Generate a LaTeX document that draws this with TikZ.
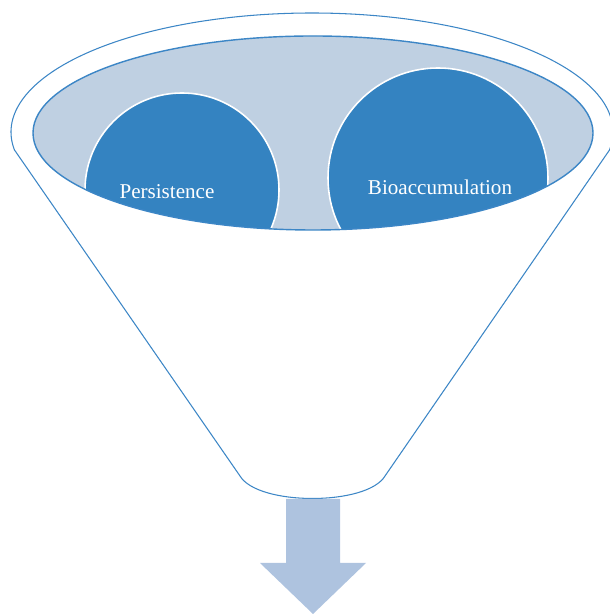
\documentclass[tikz,border=0pt]{standalone}
\usepackage{fontspec}
\setmainfont{Liberation Serif}
\definecolor{rimblue}{HTML}{3C86C6}
\definecolor{bowlfill}{HTML}{BFD0E2}
\definecolor{ballblue}{HTML}{3483C1}
\definecolor{arrowfill}{HTML}{AEC3DF}
\begin{document}
\begin{tikzpicture}[x=0.02cm,y=0.02cm,
		rim/.style={draw=rimblue,line width=0.6pt},
		ball/.style={fill=ballblue,draw=white,line width=0.9pt},
		ballname/.style={anchor=base,text=white,font=\fontsize{12}{14}\selectfont}]
		\useasboundingbox (0,0) rectangle (609,614);
		\def\bowl{(313,481) ellipse [x radius=280, y radius=97]};
		
		% funnel
		\draw[rim,fill=white] (14.5,464) -- (240,138)
			.. controls (258,108) and (367,108) .. (385,138)
			-- (609.5,464)
			arc[start angle=-8.7, end angle=188.7, x radius=301, y radius=119] -- cycle;
		
		\fill[bowlfill] \bowl;
		\begin{scope}
			\clip \bowl;
			\draw[ball] (182,424) circle [radius=97];
			\draw[ball] (438,436) circle [radius=110];
		\end{scope}
		\draw[rimblue,line width=0.8pt] \bowl;
		
		\node[ballname] (persist) at (167,415) {Persistence};
		\node[ballname] (bioacc) at (440,419) {Bioaccumulation};
		
		% output arrow
		\fill[arrowfill] (286,115) -- (340,115) -- (340,51) -- (366,51) -- (313,0)
			-- (260,51) -- (286,51) -- cycle;
	\end{tikzpicture}
\end{document}
